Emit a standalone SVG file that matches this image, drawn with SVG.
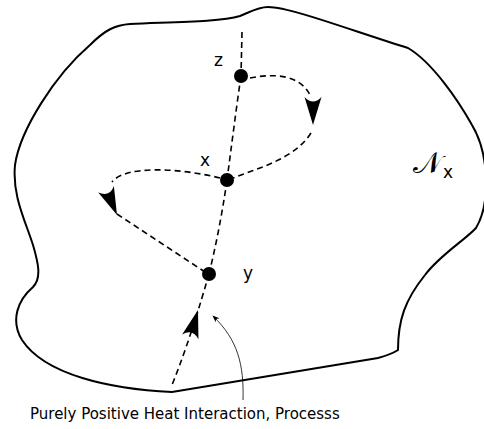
<svg xmlns="http://www.w3.org/2000/svg" xmlns:xlink="http://www.w3.org/1999/xlink" width="484" height="429" viewBox="0 0 484 429">
<style>
.outline{fill:none;stroke:#000;stroke-width:2}
.dash{fill:none;stroke:#000;stroke-width:1.6;stroke-dasharray:6,4}
.thin{fill:none;stroke:#000;stroke-width:0.8}
.dot{fill:#000}
.lbl{font-family:"DejaVu Sans","Noto Sans",sans-serif;font-size:17px;fill:#000}
.cap{font-family:"DejaVu Sans","Noto Sans",sans-serif;font-size:15px;fill:#000}
.scr{font-family:"DejaVu Serif","Noto Sans",serif;font-size:30px;fill:#000}
</style>
<defs>
<path id="ah" d="M0,0 L-28,-8.5 Q-19,0 -28,8.5 Z" fill="#000"/>
<marker id="sm" viewBox="0 0 10 10" refX="9" refY="5" markerWidth="7" markerHeight="7" orient="auto" markerUnits="userSpaceOnUse"><path d="M0,1 L10,5 L0,9 L3,5 Z" fill="#000"/></marker>
</defs>
<g id="region">
<path class="outline" d="M172,392 C110,389 45,375 22,340 C10,320 18,300 33,287 C42,278 38,262 33,245 C25,220 12,195 15,165 C20,130 55,75 90,45 C105,30 115,25 130,24 C175,22 220,22 240,16 C250,12 258,7 268,7 C290,7 350,30 408,48 C432,62 458,100 472,125 C490,155 490,205 476,228 C465,240 440,255 425,275 C405,300 398,320 398,350 C392,354 385,356 378,358 L172,392 Z"/>
</g>
<g id="connectors">
<path class="dash" d="M242,32 L241,76"/>
<path class="dash" d="M241,76 C236,110 231,150 227,180"/>
<path class="dash" d="M227,180 C222,215 216,245 209,274"/>
<path class="dash" d="M209,274 C200,305 188,345 172,385"/>
<path class="dash" d="M250,78 C275,73 300,75 310,95"/>
<path class="dash" d="M311,133 C295,158 262,167 233,178"/>
<path class="dash" d="M220,178 C180,168 125,165 112,182"/>
<path class="dash" d="M117,214 L205,272"/>
<use xlink:href="#ah" transform="translate(313,125) rotate(90)"/>
<use xlink:href="#ah" transform="translate(117,215) rotate(67)"/>
<use xlink:href="#ah" transform="translate(198,310) rotate(-74)"/>
<path class="thin" marker-end="url(#sm)" d="M243,400 C244,365 238,340 213,316"/>
</g>
<g id="node-z"><circle class="dot" cx="241" cy="76" r="7"/><text class="lbl" x="214" y="66">z</text></g>
<g id="node-x"><circle class="dot" cx="227" cy="180" r="7"/><text class="lbl" x="200" y="166">x</text></g>
<g id="node-y"><circle class="dot" cx="209" cy="274" r="7"/><text class="lbl" x="243" y="279">y</text></g>
<g id="label-N"><text class="scr" x="413" y="173">𝒩</text><text class="lbl" x="443" y="178">x</text></g>
<g id="caption"><text class="cap" x="30" y="419">Purely Positive Heat Interaction, Processs</text></g>
</svg>
